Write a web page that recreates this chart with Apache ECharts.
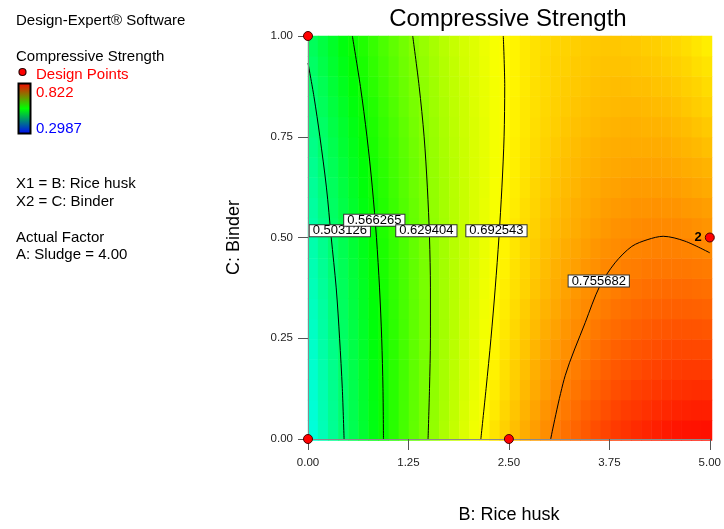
<!DOCTYPE html>
<html><head><meta charset="utf-8">
<script src="https://cdn.jsdelivr.net/npm/echarts@6/dist/echarts.min.js"></script>
<style>html,body{margin:0;padding:0;background:#fff}#c{width:724px;height:529px}</style>
</head><body><div id="c"></div>
<script>
const FONT = '"Liberation Sans", Arial, sans-serif';

// Heatmap cell centres: B (Rice husk) columns, C (Binder) rows
const xCenters = [0.0625,0.1875,0.3125,0.4375,0.5625,0.6875,0.8125,0.9375,1.0625,1.1875,1.3125,1.4375,1.5625,1.6875,1.8125,1.9375,2.0625,2.1875,2.3125,2.4375,2.5625,2.6875,2.8125,2.9375,3.0625,3.1875,3.3125,3.4375,3.5625,3.6875,3.8125,3.9375,4.0625,4.1875,4.3125,4.4375,4.5625,4.6875,4.8125,4.9375];
const yCenters = [0.025,0.075,0.125,0.175,0.225,0.275,0.325,0.375,0.425,0.475,0.525,0.575,0.625,0.675,0.725,0.775,0.825,0.875,0.925,0.975];

// Compressive strength; one list per B column, C from bottom to top
const strengthByColumn = [
[0.449,0.451,0.453,0.455,0.457,0.460,0.463,0.466,0.469,0.472,0.475,0.479,0.483,0.487,0.491,0.495,0.499,0.504,0.509,0.514],
[0.467,0.469,0.470,0.472,0.475,0.477,0.479,0.482,0.485,0.488,0.491,0.495,0.498,0.502,0.506,0.509,0.514,0.518,0.523,0.527],
[0.485,0.486,0.488,0.489,0.491,0.494,0.496,0.498,0.501,0.504,0.507,0.510,0.513,0.516,0.520,0.524,0.528,0.532,0.536,0.540],
[0.502,0.503,0.504,0.506,0.508,0.510,0.512,0.514,0.516,0.519,0.521,0.524,0.527,0.530,0.534,0.537,0.541,0.545,0.549,0.553],
[0.519,0.520,0.521,0.522,0.524,0.525,0.527,0.529,0.531,0.533,0.536,0.538,0.541,0.544,0.547,0.550,0.554,0.558,0.561,0.565],
[0.535,0.536,0.537,0.538,0.539,0.540,0.542,0.543,0.545,0.547,0.550,0.552,0.555,0.557,0.560,0.563,0.566,0.570,0.573,0.577],
[0.551,0.551,0.552,0.553,0.554,0.555,0.556,0.558,0.559,0.561,0.563,0.565,0.568,0.570,0.573,0.575,0.578,0.582,0.585,0.588],
[0.566,0.566,0.567,0.567,0.568,0.569,0.570,0.571,0.573,0.574,0.576,0.578,0.580,0.582,0.585,0.587,0.590,0.593,0.596,0.599],
[0.581,0.581,0.581,0.582,0.582,0.583,0.584,0.585,0.586,0.587,0.589,0.590,0.592,0.594,0.596,0.598,0.601,0.604,0.606,0.609],
[0.596,0.595,0.595,0.595,0.596,0.596,0.597,0.597,0.598,0.599,0.601,0.602,0.604,0.605,0.607,0.609,0.612,0.614,0.617,0.619],
[0.610,0.609,0.609,0.609,0.609,0.609,0.609,0.610,0.610,0.611,0.612,0.613,0.615,0.616,0.618,0.620,0.622,0.624,0.626,0.629],
[0.623,0.622,0.622,0.621,0.621,0.621,0.621,0.622,0.622,0.623,0.623,0.624,0.625,0.627,0.628,0.630,0.631,0.633,0.635,0.638],
[0.636,0.635,0.634,0.634,0.633,0.633,0.633,0.633,0.633,0.633,0.634,0.635,0.636,0.637,0.638,0.639,0.641,0.642,0.644,0.646],
[0.649,0.647,0.646,0.646,0.645,0.644,0.644,0.644,0.644,0.644,0.644,0.645,0.645,0.646,0.647,0.648,0.649,0.651,0.652,0.654],
[0.661,0.659,0.658,0.657,0.656,0.655,0.655,0.654,0.654,0.654,0.654,0.654,0.655,0.655,0.656,0.657,0.658,0.659,0.660,0.662],
[0.673,0.671,0.669,0.668,0.667,0.666,0.665,0.664,0.664,0.663,0.663,0.663,0.663,0.664,0.664,0.665,0.665,0.666,0.668,0.669],
[0.684,0.682,0.680,0.678,0.677,0.676,0.675,0.674,0.673,0.672,0.672,0.672,0.672,0.672,0.672,0.672,0.673,0.674,0.674,0.675],
[0.695,0.692,0.690,0.688,0.687,0.685,0.684,0.683,0.682,0.681,0.680,0.680,0.679,0.679,0.679,0.679,0.680,0.680,0.681,0.682],
[0.705,0.702,0.700,0.698,0.696,0.694,0.693,0.691,0.690,0.689,0.688,0.687,0.687,0.686,0.686,0.686,0.686,0.686,0.687,0.687],
[0.715,0.712,0.709,0.707,0.705,0.703,0.701,0.700,0.698,0.697,0.696,0.695,0.694,0.693,0.693,0.692,0.692,0.692,0.692,0.693],
[0.724,0.721,0.718,0.716,0.713,0.711,0.709,0.707,0.706,0.704,0.703,0.701,0.700,0.699,0.699,0.698,0.698,0.697,0.697,0.697],
[0.733,0.730,0.727,0.724,0.721,0.719,0.717,0.714,0.712,0.711,0.709,0.708,0.706,0.705,0.704,0.703,0.703,0.702,0.702,0.702],
[0.741,0.738,0.735,0.732,0.729,0.726,0.724,0.721,0.719,0.717,0.715,0.713,0.712,0.710,0.709,0.708,0.707,0.707,0.706,0.706],
[0.749,0.746,0.742,0.739,0.736,0.733,0.730,0.727,0.725,0.723,0.721,0.719,0.717,0.715,0.714,0.712,0.711,0.710,0.710,0.709],
[0.757,0.753,0.749,0.746,0.742,0.739,0.736,0.733,0.731,0.728,0.726,0.724,0.722,0.720,0.718,0.716,0.715,0.714,0.713,0.712],
[0.764,0.760,0.756,0.752,0.748,0.745,0.742,0.739,0.736,0.733,0.730,0.728,0.726,0.724,0.722,0.720,0.718,0.717,0.715,0.714],
[0.770,0.766,0.762,0.758,0.754,0.750,0.747,0.744,0.740,0.737,0.734,0.732,0.729,0.727,0.725,0.723,0.721,0.719,0.718,0.716],
[0.776,0.772,0.767,0.763,0.759,0.755,0.751,0.748,0.745,0.741,0.738,0.735,0.733,0.730,0.728,0.725,0.723,0.721,0.719,0.718],
[0.782,0.777,0.773,0.768,0.764,0.760,0.756,0.752,0.748,0.745,0.741,0.738,0.735,0.732,0.730,0.727,0.725,0.723,0.721,0.719],
[0.787,0.782,0.777,0.773,0.768,0.764,0.759,0.755,0.752,0.748,0.744,0.741,0.738,0.735,0.732,0.729,0.726,0.724,0.722,0.720],
[0.792,0.787,0.782,0.777,0.772,0.767,0.763,0.758,0.754,0.750,0.747,0.743,0.739,0.736,0.733,0.730,0.727,0.725,0.722,0.720],
[0.796,0.791,0.785,0.780,0.775,0.770,0.765,0.761,0.757,0.752,0.748,0.744,0.741,0.737,0.734,0.731,0.728,0.725,0.722,0.719],
[0.800,0.794,0.789,0.783,0.778,0.773,0.768,0.763,0.758,0.754,0.750,0.746,0.742,0.738,0.734,0.731,0.728,0.724,0.721,0.719],
[0.803,0.797,0.791,0.786,0.780,0.775,0.770,0.765,0.760,0.755,0.751,0.746,0.742,0.738,0.734,0.730,0.727,0.724,0.720,0.717],
[0.806,0.800,0.794,0.788,0.782,0.777,0.771,0.766,0.761,0.756,0.751,0.747,0.742,0.738,0.734,0.730,0.726,0.722,0.719,0.716],
[0.809,0.802,0.796,0.790,0.784,0.778,0.772,0.767,0.761,0.756,0.751,0.746,0.742,0.737,0.733,0.729,0.725,0.721,0.717,0.713],
[0.811,0.804,0.797,0.791,0.785,0.779,0.773,0.767,0.761,0.756,0.751,0.746,0.741,0.736,0.731,0.727,0.723,0.719,0.715,0.711],
[0.812,0.805,0.798,0.792,0.785,0.779,0.773,0.767,0.761,0.755,0.750,0.744,0.739,0.734,0.729,0.725,0.720,0.716,0.712,0.708],
[0.813,0.806,0.799,0.792,0.785,0.779,0.772,0.766,0.760,0.754,0.748,0.743,0.737,0.732,0.727,0.722,0.717,0.713,0.708,0.704],
[0.814,0.806,0.799,0.792,0.785,0.778,0.771,0.765,0.759,0.752,0.746,0.741,0.735,0.730,0.724,0.719,0.714,0.709,0.705,0.700]
];

// Contour lines [B, C]
const contour1 = [[0.449,0],[0.427,0.125],[0.393,0.25],[0.351,0.375],[0.289,0.5],[0.229,0.625],[0.148,0.75],[0.074,0.85],[0,0.933]];
const contour2 = [[0.939,0],[0.933,0.125],[0.917,0.25],[0.89,0.375],[0.852,0.5],[0.80,0.625],[0.734,0.75],[0.652,0.875],[0.552,1]];
const contour3 = [[1.494,0],[1.512,0.125],[1.523,0.25],[1.523,0.375],[1.512,0.5],[1.485,0.625],[1.445,0.75],[1.383,0.875],[1.303,1]];
const contour4 = [[2.151,0],[2.216,0.125],[2.277,0.25],[2.33,0.375],[2.376,0.5],[2.413,0.625],[2.44,0.75],[2.448,0.875],[2.43,1]];
const contour5 = [[3.02,0],[3.20,0.157],[3.45,0.289],[3.63,0.379],[3.82,0.437],[4.03,0.478],[4.23,0.495],[4.42,0.503],[4.69,0.491],[5.0,0.462]];
const contourLines = [contour1,contour2,contour3,contour4,contour5];

// Contour labels: anchor [B, C] and text
const contourLabelText = ['0.503126','0.566265','0.629404','0.692543','0.755682'];
const contourLabelPos = [[0.396,0.517],[0.825,0.543],[1.473,0.517],[2.345,0.517],[3.618,0.392]];

// Design points [B, C] and their labels
const designPoints = [[0,1],[0,0],[2.5,0],[5,0.5]];
const designLabels = ['','','','2'];

const chart = echarts.init(document.getElementById('c'));
const heatData = [];
strengthByColumn.forEach((col, i) => col.forEach((v, j) => heatData.push([i, j, v])));

const gridRect = {left:308, top:36, width:404, height:404.5};
const edgeAxis = {
  type:'value', gridIndex:1, min:0, max:1, z:5,
  axisLine:{show:true, lineStyle:{color:'#8a8a8a', width:1}},
  axisTick:{show:false}, axisLabel:{show:false}, splitLine:{show:false}
};

const series = [{
  type:'heatmap', xAxisIndex:0, yAxisIndex:0, data:heatData,
  itemStyle:{borderWidth:0}, emphasis:{disabled:true}, progressive:0
}];
contourLines.forEach(pts => series.push({
  type:'line', xAxisIndex:1, yAxisIndex:1, data:pts, showSymbol:false, symbol:'none',
  smooth:0.3, lineStyle:{color:'#000', width:1}, z:3, silent:true
}));
series.push({
  type:'scatter', xAxisIndex:1, yAxisIndex:1, symbolSize:1, z:4, silent:true,
  itemStyle:{color:'rgba(0,0,0,0)', opacity:1},
  data: contourLabelPos.map((p, i) => ({value:p, name:contourLabelText[i]})),
  label:{show:true, position:'inside', formatter:'{b}', color:'#000', fontFamily:FONT, fontSize:13,
    lineHeight:11, backgroundColor:'#ffffff', borderColor:'#333', borderWidth:1, padding:[0,3,0,3]}
});
series.push({
  type:'scatter', xAxisIndex:1, yAxisIndex:1, symbolSize:9, z:6, clip:false, silent:true,
  itemStyle:{color:'#ff0000', borderColor:'#4a0000', borderWidth:1, opacity:1},
  data: designPoints.map((p, i) => ({value:p, name:designLabels[i]})),
  label:{show:true, position:'left', distance:3, formatter:'{b}', color:'#000', fontFamily:FONT, fontSize:13, fontWeight:'bold'}
});

const txt = (x, y, text, size, color) => ({
  type:'text', x:x, y:y,
  style:{text:text, fontFamily:FONT, fontSize:size, fill:color||'#000', verticalAlign:'middle', align:'left'}
});

chart.setOption({
  animation:false,
  grid:[Object.assign({}, gridRect), Object.assign({}, gridRect)],
  xAxis:[
    {type:'category', gridIndex:0, data:xCenters.map(String), show:false},
    {type:'value', gridIndex:1, min:0, max:5, interval:1.25, z:5,
     name:'B: Rice husk', nameLocation:'middle', nameGap:67,
     nameTextStyle:{fontFamily:FONT, fontSize:18, color:'#000'},
     axisLine:{show:true, onZero:false, lineStyle:{color:'#000', width:1}},
     axisTick:{show:true, length:11, lineStyle:{color:'#555'}},
     axisLabel:{margin:18, fontFamily:FONT, fontSize:11.5, color:'#222', formatter:v => v.toFixed(2)},
     splitLine:{show:false}},
    Object.assign({}, edgeAxis, {max:5, position:'top'})
  ],
  yAxis:[
    {type:'category', gridIndex:0, data:yCenters.map(String), show:false},
    {type:'value', gridIndex:1, min:0, max:1, interval:0.25, z:5,
     name:'C: Binder', nameLocation:'middle', nameGap:65,
     nameTextStyle:{fontFamily:FONT, fontSize:18, color:'#000'},
     axisLine:{show:true, onZero:false, lineStyle:{color:'#000', width:1}},
     axisTick:{show:true, length:10, lineStyle:{color:'#555'}},
     axisLabel:{margin:15, fontFamily:FONT, fontSize:11.5, color:'#222', formatter:v => v.toFixed(2)},
     splitLine:{show:false}},
    Object.assign({}, edgeAxis, {position:'right'})
  ],
  visualMap:{type:'continuous', show:false, seriesIndex:0, min:0.2987, max:0.822,
    inRange:{color:['#0000ff','#00ffff','#00ff00','#ffff00','#ff0000']}},
  series:series,
  graphic:[
    {type:'text', x:508, y:19, style:{text:'Compressive Strength', fontFamily:FONT, fontSize:24, fill:'#000', align:'center', verticalAlign:'middle'}},
    txt(16, 21, 'Design-Expert® Software', 15),
    txt(16, 57, 'Compressive Strength', 15),
    {type:'circle', shape:{cx:22.5, cy:72, r:3.5}, style:{fill:'#ff0000', stroke:'#300000', lineWidth:1.2}},
    txt(36, 75, 'Design Points', 15, '#ff0000'),
    {type:'rect', shape:{x:18.5, y:83.5, width:12, height:50},
     style:{fill:new echarts.graphic.LinearGradient(0,0,0,1,[{offset:0,color:'#ff0000'},{offset:0.5,color:'#00ff00'},{offset:1,color:'#0000ff'}]), stroke:'#000', lineWidth:2}},
    txt(36, 93, '0.822', 15, '#ff0000'),
    txt(36, 128.5, '0.2987', 15, '#0000ff'),
    txt(16, 184, 'X1 = B: Rice husk', 15),
    txt(16, 201.5, 'X2 = C: Binder', 15),
    txt(16, 238, 'Actual Factor', 15),
    txt(16, 255, 'A: Sludge = 4.00', 15)
  ]
});
</script></body></html>
